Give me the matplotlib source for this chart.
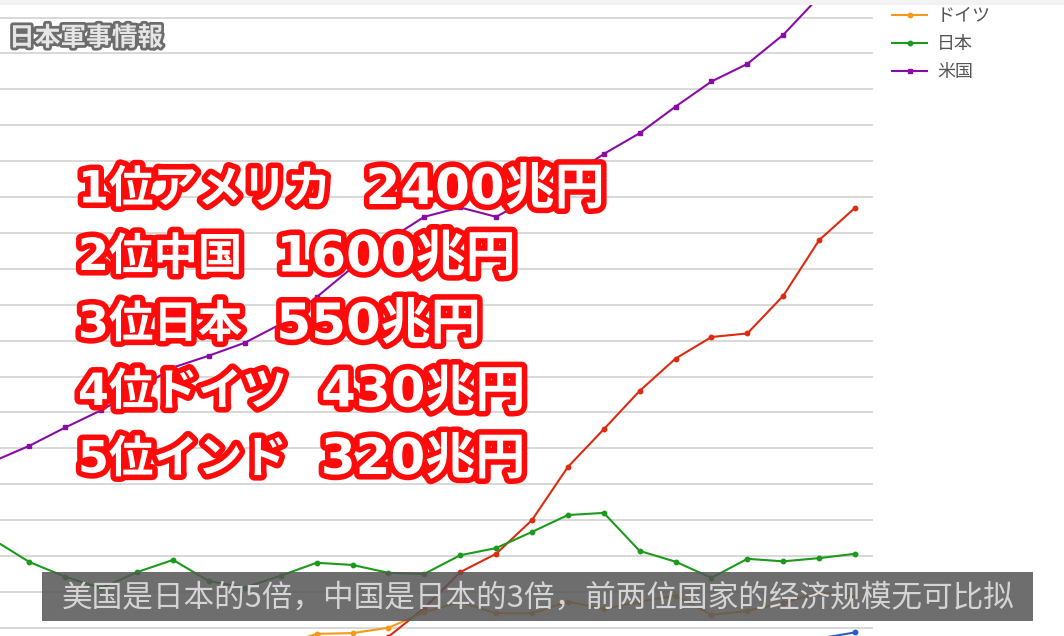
import matplotlib
matplotlib.use("Agg")
import matplotlib.pyplot as plt
import matplotlib.patheffects as pe
from matplotlib.patches import Rectangle
import numpy as np

plt.rcParams['font.family'] = ['Noto Sans CJK JP', 'DejaVu Sans']

# GDP, trillion USD
years = list(range(1995, 2020))
india = [0.36, 0.39, 0.42, 0.42, 0.46, 0.47, 0.49, 0.51, 0.61, 0.71, 0.82, 0.94, 1.22,
         1.20, 1.34, 1.68, 1.82, 1.83, 1.86, 2.04, 2.10, 2.29, 2.65, 2.70, 2.87]
china = [0.73, 0.86, 0.96, 1.03, 1.09, 1.21, 1.34, 1.47, 1.66, 1.96, 2.29, 2.75, 3.55,
         4.55, 5.06, 6.00, 7.48, 8.53, 9.60, 10.50, 11.10, 11.20, 12.25, 13.80, 14.70]
germany = [2.59, 2.50, 2.22, 2.24, 2.20, 1.95, 1.95, 2.08, 2.50, 2.83, 2.85, 3.00, 3.43,
           3.72, 3.40, 3.40, 3.73, 3.52, 3.73, 3.89, 3.36, 3.47, 3.69, 3.98, 3.86]
japan = [5.45, 4.83, 4.42, 4.10, 4.55, 4.89, 4.30, 4.12, 4.45, 4.81, 4.75, 4.53, 4.50,
         5.02, 5.22, 5.67, 6.14, 6.20, 5.14, 4.84, 4.39, 4.92, 4.85, 4.94, 5.06]
usa = [7.64, 8.07, 8.58, 9.06, 9.63, 10.25, 10.58, 10.94, 11.46, 12.21, 13.04, 13.81, 14.45,
       14.71, 14.45, 14.99, 15.54, 16.20, 16.78, 17.52, 18.22, 18.71, 19.52, 20.58, 21.43]

names = ["インド", "中国", "ドイツ", "日本", "米国"]
colors = ["#2a5bd0", "#dd2a10", "#f39a1a", "#1b9a1b", "#8a0ca6"]

rank_names = ["1位アメリカ", "2位中国", "3位日本", "4位ドイツ", "5位インド"]
rank_values = ["2400兆円", "1600兆円", "550兆円", "430兆円", "320兆円"]
subtitle = "美国是日本的5倍，中国是日本的3倍，前两位国家的经济规模无可比拟"
watermark = "日本軍事情報"

fig = plt.figure(figsize=(10.64, 6.36), dpi=100)
ax = fig.add_axes([0, 0, 873 / 1064, 1])

for name, vals, c in zip(names, [india, china, germany, japan, usa], colors):
    mk = "s" if name == "米国" else "o"
    ax.plot(years, vals, color=c, lw=1.5, marker=mk, ms=3.2, label=name)

ax.set_xlim(1995.18, 2019.5)
ax.set_ylim(2.77, 20.49)
ax.set_yticks(np.arange(3, 21))
ax.set_xticks([])
ax.tick_params(length=0, labelleft=False)
ax.grid(axis="y", color="#d6d6d6", lw=1.3)
ax.set_axisbelow(True)
for s in ax.spines.values():
    s.set_visible(False)

# legend: only the last rows fit in the frame, like the cropped original
fig.legend(loc="upper left", bbox_to_anchor=(892 / 1064, 1.077), frameon=False,
           fontsize=13, handlelength=1.95, handletextpad=0.55, labelspacing=0.56,
           borderpad=0, borderaxespad=0, labelcolor="#555555")

# light strip at very top
fig.add_artist(Rectangle((0, 1 - 5 / 636), 1, 5 / 636, transform=fig.transFigure,
                         facecolor="#f2f2f2", edgecolor="none", zorder=4))

fig.text(9 / 1064, 1 - 38 / 636, watermark, fontsize=18.5, weight="bold", color="#e6e6e6",
         va="center", ha="left", zorder=6,
         path_effects=[pe.withStroke(linewidth=4, foreground="#6c6c6c")])

# ranking overlay: name part, then the amount a little to the right
red_edge = [pe.withStroke(linewidth=8, foreground="#ff0a0a")]
renderer = fig.canvas.get_renderer()
for i, (nm, val) in enumerate(zip(rank_names, rank_values)):
    y = 1 - (190 + i * 67.5) / 636
    t = fig.text(78 / 1064, y, nm, fontsize=32, weight="bold", color="white",
                 family=["DejaVu Sans", "Noto Sans CJK JP"],
                 va="center", ha="left", zorder=6, path_effects=red_edge)
    x1 = t.get_window_extent(renderer).x1
    fig.text((x1 + 34) / 1064, y, val, fontsize=36, weight="bold", color="white",
             family=["DejaVu Sans", "Noto Sans CJK JP"],
             va="center", ha="left", zorder=6, path_effects=red_edge)

fig.add_artist(Rectangle((42 / 1064, 15 / 636), 991 / 1064, 49 / 636, transform=fig.transFigure,
                         facecolor="#555555", edgecolor="none", alpha=0.85, zorder=5))
fig.text(538 / 1064, 1 - 598 / 636, subtitle, fontsize=22.1, color="#d4d4d4",
         family=["Noto Sans CJK SC", "DejaVu Sans"], va="center", ha="center", zorder=6)

fig.savefig("out.png", dpi=100)
